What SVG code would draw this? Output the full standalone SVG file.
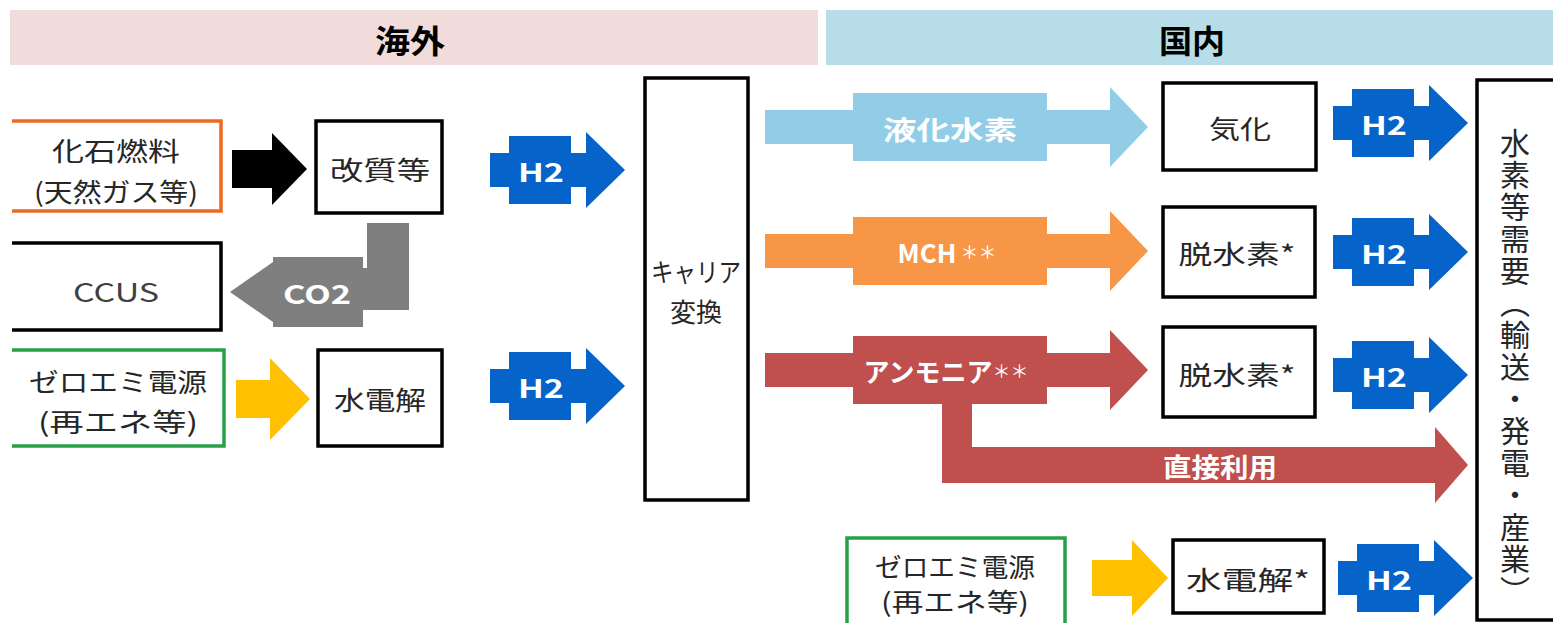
<svg xmlns="http://www.w3.org/2000/svg" width="1553" height="623" viewBox="0 0 1553 623">
<defs>
<style>
.box{fill:#fff;stroke:#000;stroke-width:3.5}
.lbl{font-family:"Noto Sans CJK JP","Noto Sans",sans-serif;font-size:26px;fill:#262626;text-anchor:middle;dominant-baseline:central}
.hdr{font-family:"Noto Sans CJK JP","Noto Sans",sans-serif;font-size:32px;font-weight:bold;fill:#000;text-anchor:middle;dominant-baseline:central}
.wt{font-family:"Noto Sans CJK JP","Noto Sans",sans-serif;font-size:26px;font-weight:bold;fill:#fff;text-anchor:middle;dominant-baseline:central}
.h2{fill:#0563c9}
</style>
<path id="h2a" d="M0,-17 H19 V-34 H81 V-17 H96 V-38 L135,0 L96,38 V17 H81 V34 H19 V17 H0 Z"/>
<path id="carr" d="M0,-17 H88 V-34 H282 V-17 H345 V-40 L383,0 L345,40 V17 H282 V34 H88 V17 H0 Z"/>
</defs>
<rect width="1553" height="623" fill="#fff"/>

<g id="header-overseas">
<rect x="10" y="10" width="808" height="55" fill="#f2dcdb"/>
<text class="hdr" x="410" y="39" textLength="70" lengthAdjust="spacingAndGlyphs">海外</text>
</g>
<g id="header-domestic">
<rect x="826" y="10" width="727" height="55" fill="#b7dee8"/>
<text class="hdr" x="1192" y="39" textLength="66" lengthAdjust="spacingAndGlyphs">国内</text>
</g>

<g id="connectors">
<polygon points="232,150 272,150 272,133 307,169 272,205 272,188 232,188" fill="#000"/>
<use href="#h2a" class="h2" x="490" y="170"/>
<text class="wt" x="541" y="170" textLength="46" lengthAdjust="spacingAndGlyphs">H2</text>
<use href="#h2a" class="h2" x="490" y="386"/>
<text class="wt" x="541" y="386" textLength="46" lengthAdjust="spacingAndGlyphs">H2</text>
<polygon points="367,223 409,223 409,310 363,310 363,327 273,327 273,322 230,292 273,262 273,257 363,257 363,268 367,268" fill="#7f7f7f"/>
<text class="wt" x="317" y="292" textLength="68" lengthAdjust="spacingAndGlyphs">CO2</text>
<polygon points="236,380 270,380 270,358 310,399 270,440 270,418 236,418" fill="#ffc000"/>
<use href="#carr" x="765" y="127" fill="#92cde8"/>
<text class="wt" x="950" y="128" textLength="134" lengthAdjust="spacingAndGlyphs">液化水素</text>
<use href="#carr" x="765" y="251" fill="#f79646"/>
<text class="wt" x="947" y="251">MCH<tspan font-size="18" font-weight="normal" dx="4">＊＊</tspan></text>
<polygon points="942,400 972,400 972,447 1435,447 1435,427 1468,465 1435,503 1435,483 942,483" fill="#c0504d"/>
<use href="#carr" x="765" y="370" fill="#c0504d"/>
<text class="wt" x="946" y="370">アンモニア<tspan font-size="18" font-weight="normal">＊＊</tspan></text>
<text class="wt" x="1220" y="465" textLength="114" lengthAdjust="spacingAndGlyphs">直接利用</text>
<use href="#h2a" class="h2" x="1333" y="123"/>
<text class="wt" x="1384" y="123" textLength="46" lengthAdjust="spacingAndGlyphs">H2</text>
<use href="#h2a" class="h2" x="1333" y="252"/>
<text class="wt" x="1384" y="252" textLength="46" lengthAdjust="spacingAndGlyphs">H2</text>
<use href="#h2a" class="h2" x="1333" y="375"/>
<text class="wt" x="1384" y="375" textLength="46" lengthAdjust="spacingAndGlyphs">H2</text>
<use href="#h2a" class="h2" x="1338" y="578"/>
<text class="wt" x="1389" y="578" textLength="46" lengthAdjust="spacingAndGlyphs">H2</text>
<polygon points="1092,560 1132,560 1132,540 1168,578 1132,616 1132,596 1092,596" fill="#ffc000"/>
</g>

<g id="node-fossil">
<path d="M12,121 H221 V211 H12" fill="#fff" stroke="#ed6b21" stroke-width="3.5"/>
<text class="lbl" x="116" y="149" textLength="128" lengthAdjust="spacingAndGlyphs">化石燃料</text>
<text class="lbl" x="116" y="190" textLength="164" lengthAdjust="spacingAndGlyphs">(天然ガス等)</text>
</g>
<g id="node-reform">
<rect class="box" x="316" y="121" width="126" height="92"/>
<text class="lbl" x="380" y="168" textLength="100" lengthAdjust="spacingAndGlyphs">改質等</text>
</g>
<g id="node-ccus">
<path d="M12,243 H221 V330 H12" fill="#fff" stroke="#000" stroke-width="3.5"/>
<text class="lbl" x="116" y="290" style="fill:#404040" textLength="86" lengthAdjust="spacingAndGlyphs">CCUS</text>
</g>
<g id="node-zeroemi-left">
<path d="M12,350 H224 V446 H12" fill="#fff" stroke="#27a047" stroke-width="3.5"/>
<text class="lbl" x="118" y="380" textLength="178" lengthAdjust="spacingAndGlyphs">ゼロエミ電源</text>
<text class="lbl" x="118" y="420" textLength="160" lengthAdjust="spacingAndGlyphs">(再エネ等)</text>
</g>
<g id="node-electrolysis-left">
<rect class="box" x="318" y="350" width="124" height="96"/>
<text class="lbl" x="380" y="398" textLength="92" lengthAdjust="spacingAndGlyphs">水電解</text>
</g>
<g id="node-carrier">
<rect class="box" x="645" y="78" width="103" height="422"/>
<text class="lbl" x="696" y="270" textLength="90" lengthAdjust="spacingAndGlyphs">キャリア</text>
<text class="lbl" x="696" y="310">変換</text>
</g>
<g id="node-vaporize">
<rect class="box" x="1163" y="83" width="153" height="87"/>
<text class="lbl" x="1240" y="127" textLength="62" lengthAdjust="spacingAndGlyphs">気化</text>
</g>
<g id="node-dehydro1">
<rect class="box" x="1163" y="207" width="152" height="90"/>
<text class="lbl" x="1237" y="252" textLength="117" lengthAdjust="spacingAndGlyphs">脱水素*</text>
</g>
<g id="node-dehydro2">
<rect class="box" x="1163" y="327" width="152" height="90"/>
<text class="lbl" x="1237" y="373" textLength="117" lengthAdjust="spacingAndGlyphs">脱水素*</text>
</g>
<g id="node-zeroemi-right">
<path d="M847,623 V538 H1065 V623" fill="#fff" stroke="#27a047" stroke-width="3.5"/>
<text class="lbl" x="955" y="565" textLength="160" lengthAdjust="spacingAndGlyphs">ゼロエミ電源</text>
<text class="lbl" x="955" y="600" textLength="148" lengthAdjust="spacingAndGlyphs">(再エネ等)</text>
</g>
<g id="node-electrolysis-right">
<rect class="box" x="1173" y="540" width="151" height="73"/>
<text class="lbl" x="1248" y="578" textLength="124" lengthAdjust="spacingAndGlyphs">水電解*</text>
</g>
<g id="node-demand">
<rect class="box" x="1477" y="80" width="100" height="540"/>
<text x="1515" y="128" style="writing-mode:vertical-rl" font-family="Noto Sans CJK JP, sans-serif" font-size="30" letter-spacing="2" fill="#262626">水素等需要（輸送・発電・産業）</text>
</g>
</svg>
